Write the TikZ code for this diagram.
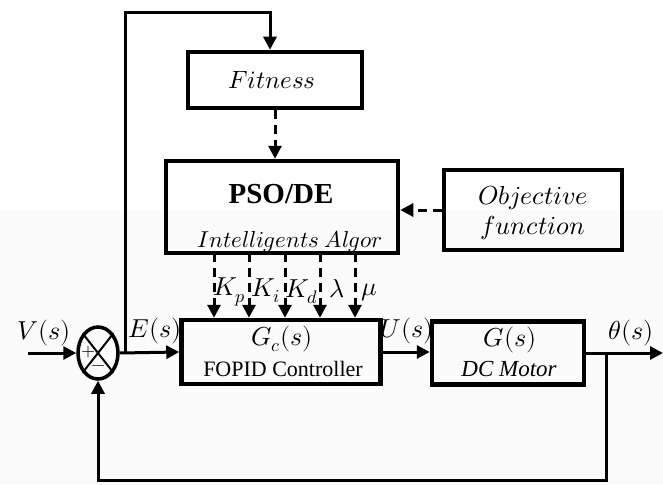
\documentclass[tikz,border=0pt]{standalone}
\usepackage{fontspec}
\setmainfont{Liberation Serif}
\usepackage{unicode-math}
\setmathfont{Latin Modern Math}
\usetikzlibrary{arrows.meta,calc,shapes.geometric}

\tikzset{
  block/.style={draw, line width=4.5pt, inner sep=0pt},
  wire/.style={line width=3pt},
  tip/.style={-{Triangle[length=13pt,width=13pt]}},
  dwire/.style={line width=3pt, dash pattern=on 9pt off 6pt},
  lbl/.style={inner sep=0pt, font=\fontsize{26}{28}\selectfont},
}

\begin{document}
\begin{tikzpicture}[x=1pt,y=-1pt]
  % canvas
  \path[use as bounding box] (0,0) rectangle (663,484);
  \fill[white] (0,0) rectangle (663,210);
  \fill[gray!3] (0,210) rectangle (663,484);

  % blocks
  \node[block, minimum width=174pt, minimum height=56pt] (fit) at (275,80) {};
  \node[inner sep=0pt] (fitt) at (272,80) {\fontsize{25}{27}\selectfont$Fitness$};
  \node[block, minimum width=232pt, minimum height=92pt] (pso) at (282,207) {};
  \node[inner sep=0pt, font=\bfseries\fontsize{29}{31}\selectfont] (psot) at (281,194) {PSO/DE};
  \node[inner sep=0pt, anchor=base] (alg) at (290,247)
    {\fontsize{23}{25}\selectfont$Intelligents\ Algor$};
  \node[block, minimum width=178pt, minimum height=80pt] (obj) at (533,210) {};
  \node[inner sep=0pt] (objt) at (533,198) {\fontsize{26}{28}\selectfont$Objective$};
  \node[inner sep=0pt] (objt2) at (533,228) {\fontsize{26}{28}\selectfont$function$};
  \node[block, minimum width=199pt, minimum height=64pt] (ctl) at (281,352) {};
  \node[inner sep=0pt] (ctlm) at (282,339) {\fontsize{26}{28}\selectfont$G_c(s)$};
  \node[inner sep=0pt] (ctlt) at (283,369) {\fontsize{22}{24}\selectfont FOPID Controller};
  \node[block, minimum width=152pt, minimum height=63pt] (mot) at (508,353) {};
  \node[inner sep=0pt] (motm) at (510,340) {\fontsize{26}{28}\selectfont$G(s)$};
  \node[inner sep=0pt] (mott) at (509,369) {\fontsize{23}{25}\selectfont\itshape DC Motor};

  % summing junction
  \node[draw, ellipse, line width=3.5pt, minimum width=40pt, minimum height=52pt, inner sep=0pt] (sum) at (98,353) {};
  \draw[line width=2pt] (sum.north west) -- (sum.south east) (sum.north east) -- (sum.south west);
  \node[inner sep=0pt] (plus) at (89,352) {\fontsize{18}{18}\selectfont$+$};
  \node[inner sep=0pt] (minus) at (99,368) {\fontsize{18}{18}\selectfont$-$};

  % signal coordinates
  \coordinate (vin) at (28,353);
  \coordinate (ej) at (125,353);
  \coordinate (top) at (125,13);
  \coordinate (tr) at (270,13);
  \coordinate (oj) at (606,353);
  \coordinate (out) at (663,353);
  \coordinate (bl) at (98,480);
  \coordinate (br) at (606,480);

  % forward path
  \draw[wire, tip] (vin) -- (sum.west);
  \draw[wire, tip] (sum.east) -- (ctl.west);
  \draw[wire, tip] (ctl.east) -- (mot.west |- ctl.east);
  \draw[wire, tip] (mot.east |- out) -- (out);

  % feedback paths
  \draw[wire, tip] (oj) -- (br) -- (bl) -- (sum.south);
  \draw[wire, tip] (ej) -- (top) -- (tr) -- (tr |- fit.north);

  % optimisation links
  \draw[dwire, tip] (fit.south) -- (fit.south |- pso.north);
  \draw[dwire, tip] (obj.west) -- (pso.east |- obj.west);
  \foreach \x/\n in {214/kp, 249/ki, 285/kd, 320/la, 355/mu}{
    \coordinate (\n a) at (\x, 253);
    \draw[dwire, tip] (\n a) -- (\n a |- ctl.north);
  }

  % signal labels
  \node[lbl] (lv) at (44,333) {$V(s)$};
  \node[lbl] (le) at (155,331) {$E(s)$};
  \node[lbl] (lu) at (407,331) {$U(s)$};
  \node[lbl] (lt) at (631,333) {$\theta(s)$};
  \node[lbl] (lkp) at (229,292) {$K_p$};
  \node[lbl] (lki) at (266,291) {$K_i$};
  \node[lbl] (lkd) at (302,292) {$K_d$};
  \node[lbl] (lla) at (337,289) {$\lambda$};
  \node[lbl] (lmu) at (369,293) {$\mu$};
\end{tikzpicture}
\end{document}
